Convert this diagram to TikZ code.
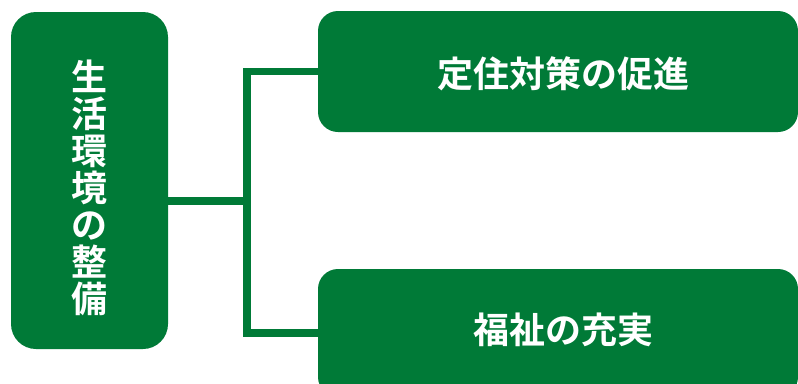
\documentclass[tikz,border=0pt]{standalone}
\usepackage{fontspec}
\newfontfamily\jpfont{Noto Sans CJK JP}[BoldFont={Noto Sans CJK JP Bold}]
\usepackage{xcolor}
\definecolor{leafgreen}{HTML}{007A37}
\tikzset{>=latex}
\tikzset{
  greenbox/.style={draw=none,fill=leafgreen,rounded corners=20pt,inner sep=0pt},
  boxtext/.style={text=white,font=\jpfont\bfseries\fontsize{36}{37}\selectfont,inner sep=0pt},
  link/.style={draw=leafgreen,line width=7.5pt}
}

\begin{document}
\begin{tikzpicture}[x=1pt,y=-1pt]
  \useasboundingbox (0,0) rectangle (798,383);
  \clip (0,0) rectangle (798,383);
  % Boxes
  \node[greenbox,rounded corners=25pt,minimum width=157pt,minimum height=337pt] (life) at (89.5,180.5) {};
  \node[boxtext,align=center] (lifetext) at (89.5,188) {生\\活\\環\\境\\の\\整\\備};
  \node[greenbox,minimum width=480pt,minimum height=121pt] (settle) at (558,71.5) {};
  \node[boxtext] (settletext) at (563,74) {定住対策の促進};
  \node[greenbox,minimum width=480pt,minimum height=128pt] (welfare) at (558,333) {};
  \node[boxtext] (welfaretext) at (563,330) {福祉の充実};
  % Lines
  \coordinate (hub) at (247,201);
  \draw[link] (life.east |- hub) -- (hub);
  \draw[link] (settle.west) -| (hub) |- (welfare.west);
\end{tikzpicture}
\end{document}
